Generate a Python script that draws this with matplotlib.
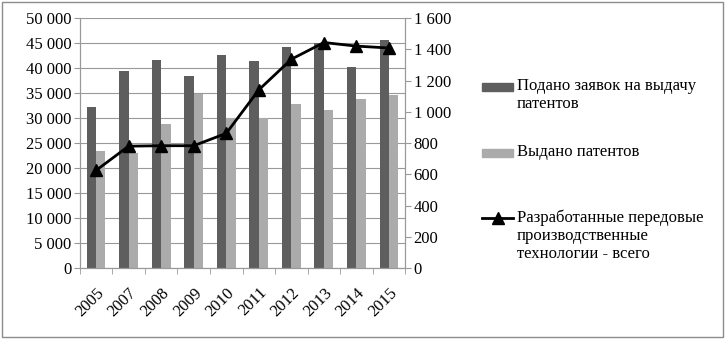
import matplotlib.pyplot as plt
import matplotlib.patches as mpatches
from matplotlib.lines import Line2D
from matplotlib.ticker import FuncFormatter, MultipleLocator, FixedLocator
import numpy as np

# ── Data ──
years = ['2005', '2007', '2008', '2009', '2010', '2011', '2012', '2013', '2014', '2015']
applications = [32200, 39400, 41600, 38400, 42500, 41400, 44100, 44900, 40300, 45500]
granted = [23400, 23000, 28800, 34800, 30000, 30000, 32800, 31600, 33900, 34700]
technologies = [625, 780, 783, 783, 862, 1140, 1336, 1443, 1420, 1408]

labels = ['Подано заявок на выдачу\nпатентов',
          'Выдано патентов',
          'Разработанные передовые\nпроизводственные\nтехнологии - всего']

DARK = '#5e5e5e'
LIGHT = '#ababab'
GRID = '#999999'

plt.rcParams['font.family'] = ['Liberation Serif', 'DejaVu Serif']
plt.rcParams['font.size'] = 12

fig = plt.figure(figsize=(7.25, 3.39), dpi=100)
ax = fig.add_axes([0.110, 0.209, 0.449, 0.738])
ax2 = ax.twinx()

x = np.arange(len(years))
w = 0.29
ax.bar(x - w / 2, applications, width=w, color=DARK, zorder=2)
ax.bar(x + w / 2, granted, width=w, color=LIGHT, zorder=2)

ax2.plot(x, technologies, color='black', linewidth=2, marker='^',
         markersize=8, markerfacecolor='black', zorder=5)

def spaced(v, pos):
    return f'{int(v):,}'.replace(',', ' ')

ax.set_ylim(0, 50000)
ax.yaxis.set_major_locator(MultipleLocator(5000))
ax.yaxis.set_major_formatter(FuncFormatter(spaced))
ax2.set_ylim(0, 1600)
ax2.yaxis.set_major_locator(MultipleLocator(200))
ax2.yaxis.set_major_formatter(FuncFormatter(spaced))

ax.set_xlim(-0.5, len(years) - 0.5)
ax.set_xticks(x)
ax.set_xticklabels(years, rotation=45, ha='right', rotation_mode='anchor')
ax.tick_params(axis='x', length=0, pad=12)
ax.xaxis.set_minor_locator(FixedLocator(np.arange(-0.5, len(years), 1.0)))
ax.tick_params(axis='x', which='minor', length=4, color=GRID, direction='out')

ax.grid(axis='y', color=GRID, linewidth=0.8, zorder=0)
ax.set_axisbelow(True)
ax.tick_params(axis='y', length=4, color=GRID, pad=2)
ax2.tick_params(axis='y', length=4, color=GRID, pad=2)

for a in (ax, ax2):
    a.spines['top'].set_visible(False)
    for s in ('left', 'right', 'bottom'):
        a.spines[s].set_color(GRID)

# ── Legend drawn at figure level ──
fig_h = 339.0
fig_w = 725.0

def fx(px):
    return px / fig_w

def fy(py):
    return 1 - py / fig_h

fig.patches.append(mpatches.Rectangle((fx(482), fy(91)), fx(513) - fx(482), fy(83) - fy(91),
                                      transform=fig.transFigure, color=DARK, figure=fig))
fig.patches.append(mpatches.Rectangle((fx(482), fy(157)), fx(513) - fx(482), fy(149) - fy(157),
                                      transform=fig.transFigure, color=LIGHT, figure=fig))
fig.lines.append(Line2D([fx(482), fx(513)], [fy(218), fy(218)], transform=fig.transFigure,
                        color='black', linewidth=2, figure=fig))
fig.lines.append(Line2D([fx(497.5)], [fy(218)], transform=fig.transFigure,
                        color='black', marker='^', markersize=8, linestyle='none', figure=fig))
for text_y, lab in zip([78, 144, 209], labels):
    fig.text(fx(517), fy(text_y), lab, ha='left', va='top', fontsize=12, linespacing=1.2)

# frame around figure
fig.patches.append(mpatches.Rectangle((0.003, 0.006), 0.994, 0.988, transform=fig.transFigure,
                                      fill=False, edgecolor='#8c8c8c', linewidth=1, figure=fig))

fig.savefig('out.png', dpi=100)
